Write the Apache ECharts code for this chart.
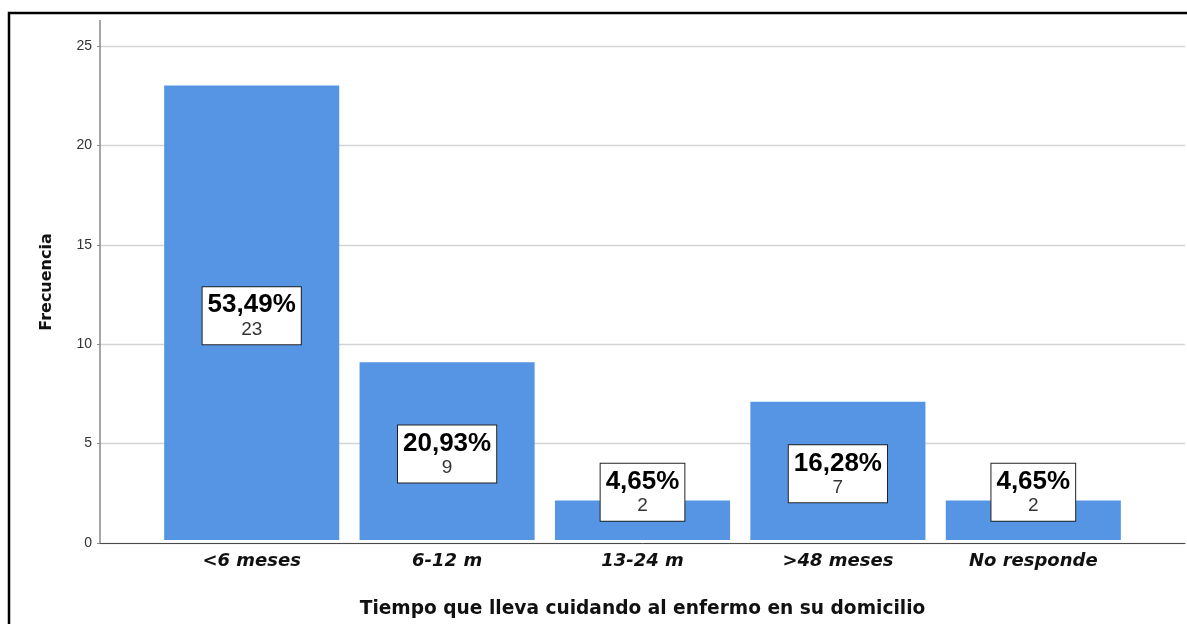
<!DOCTYPE html>
<html>
<head>
<meta charset="utf-8">
<script src="https://cdn.jsdelivr.net/npm/echarts@6/dist/echarts.min.js"></script>
<style>
  html, body { margin: 0; padding: 0; background: #ffffff; }
  #chart { width: 1187px; height: 624px; }
</style>
</head>
<body>
<div id="chart"></div>
<script>
// Tiempo que lleva cuidando al enfermo en su domicilio: frecuencias
const categories = ['<6 meses', '6-12 m', '13-24 m', '>48 meses', 'No responde'];
const counts = [23, 9, 2, 7, 2];
const pctLabels = ['53,49%', '20,93%', '4,65%', '16,28%', '4,65%'];
const yTicks = [0, 5, 10, 15, 20, 25];

const FONT = '"Liberation Sans", Arial, sans-serif';
const WIDE = '"DejaVu Sans", sans-serif';
const BAR_COLOR = '#5595e3';

// Short bars keep their label box lifted above the axis
const barData = counts.map((v, i) => ({
  value: v,
  label: { offset: v <= 2 ? [0, -28] : [0, 3] }
}));

const chart = echarts.init(document.getElementById('chart'), null, { renderer: 'canvas' });

chart.setOption({
  animation: false,
  backgroundColor: '#ffffff',
  grid: [
    // frame with gridlines and the axis lines
    { left: 100, right: 2, top: 46, bottom: 81 },
    // inner band area that holds the bars
    { left: 154, right: 56, top: 46, bottom: 81 }
  ],
  xAxis: [
    {
      type: 'value', gridIndex: 0, min: 0, max: 1,
      axisLine: { show: true, onZero: false, lineStyle: { color: '#4a4a4a', width: 1 } },
      axisTick: { show: false }, axisLabel: { show: false }, splitLine: { show: false }
    },
    {
      type: 'category', gridIndex: 1, data: categories,
      axisLine: { show: false }, axisTick: { show: false },
      axisLabel: {
        margin: 12, color: '#111', fontFamily: WIDE,
        fontSize: 18, fontWeight: 'bold', fontStyle: 'italic'
      },
      name: 'Tiempo que lleva cuidando al enfermo en su domicilio',
      nameLocation: 'middle', nameGap: 60,
      nameTextStyle: { color: '#111', fontFamily: WIDE, fontSize: 18.6, fontWeight: 'bold' }
    }
  ],
  yAxis: [
    {
      type: 'value', gridIndex: 0, min: yTicks[0], max: yTicks[yTicks.length - 1], interval: 5,
      axisLine: { show: true, lineStyle: { color: '#8a8a8a', width: 1.5 } },
      axisTick: { show: true, length: 3, lineStyle: { color: '#8a8a8a' } },
      axisLabel: { margin: 8, color: '#333', fontFamily: FONT, fontSize: 14 },
      splitLine: { show: true, lineStyle: { color: '#d4d4d4', width: 1.3 } },
      name: 'Frecuencia', nameLocation: 'middle', nameGap: 45,
      nameTextStyle: { color: '#111', fontFamily: WIDE, fontSize: 16, fontWeight: 'bold', padding: [0, 0, 0, 25] }
    },
    {
      type: 'value', gridIndex: 1, min: yTicks[0], max: yTicks[yTicks.length - 1], show: false
    }
  ],
  series: [
    {
      type: 'bar', xAxisIndex: 1, yAxisIndex: 1,
      data: barData,
      barCategoryGap: '10.4%',
      itemStyle: { color: BAR_COLOR },
      label: {
        show: true,
        position: 'inside',
        backgroundColor: '#ffffff',
        borderColor: '#222',
        borderWidth: 1,
        padding: [4, 5, 4, 5],
        formatter: p => '{p|' + pctLabels[p.dataIndex] + '}\n{n|' + p.value + '}',
        rich: {
          p: { fontFamily: FONT, fontSize: 26, fontWeight: 'bold', color: '#000', lineHeight: 28, align: 'center' },
          n: { fontFamily: FONT, fontSize: 19, color: '#333', lineHeight: 21, align: 'center' }
        }
      }
    }
  ],
  graphic: [
    // outer black frame
    {
      type: 'rect', silent: true,
      shape: { x: 9, y: 13, width: 1300, height: 800 },
      style: { fill: 'none', stroke: '#000', lineWidth: 2.5 }
    },
    // vertical axis continues a little above the top tick
    {
      type: 'line', silent: true,
      shape: { x1: 100, y1: 20, x2: 100, y2: 46 },
      style: { stroke: '#8a8a8a', lineWidth: 1.5 }
    }
  ]
});
</script>
</body>
</html>
